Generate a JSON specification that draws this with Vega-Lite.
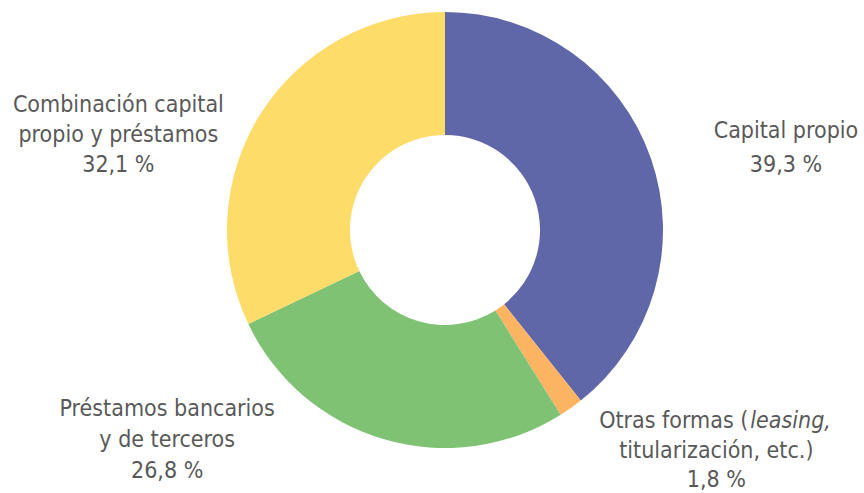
{
  "$schema": "https://vega.github.io/schema/vega-lite/v6.json",
  "width": 838,
  "height": 460,
  "autosize": "none",
  "padding": {"left": 26, "right": 0, "top": 0, "bottom": 33},
  "background": "white",
  "config": {"view": {"stroke": null}},
  "data": {
    "values": [
      {"categoria": "Capital propio", "valor": 39.3, "orden": 1, "etiqueta": ["Capital propio", "39,3 %"]},
      {"categoria": "Otras formas", "valor": 1.8, "orden": 2, "parte_a": "Otras formas (", "parte_b": "leasing,", "etiqueta": ["titularización, etc.)", "1,8 %"]},
      {"categoria": "Préstamos bancarios y de terceros", "valor": 26.8, "orden": 3, "etiqueta": ["Préstamos bancarios", "y de terceros", "26,8 %"]},
      {"categoria": "Combinación capital propio y préstamos", "valor": 32.1, "orden": 4, "etiqueta": ["Combinación capital", "propio y préstamos", "32,1 %"]}
    ]
  },
  "transform": [
    {"stack": "valor", "groupby": [], "sort": [{"field": "orden"}], "as": ["v0", "v1"]},
    {"calculate": "(datum.v0 + datum.v1) / 2", "as": "vm"}
  ],
  "layer": [
    {
      "mark": {"type": "arc", "innerRadius": 95, "outerRadius": 218},
      "encoding": {
        "theta": {"field": "v0", "type": "quantitative", "scale": {"domain": [0, 100]}},
        "theta2": {"field": "v1"},
        "color": {
          "field": "categoria",
          "type": "nominal",
          "scale": {
            "domain": ["Capital propio", "Otras formas", "Préstamos bancarios y de terceros", "Combinación capital propio y préstamos"],
            "range": ["#6067A8", "#FDB462", "#7FC274", "#FDDC6A"]
          },
          "legend": null
        }
      }
    },
    {
      "transform": [{"filter": "datum.orden == 1"}],
      "mark": {"type": "text", "font": "Liberation Sans Narrow, DejaVu Sans Condensed, sans-serif", "fontSize": 23, "lineHeight": 34, "color": "#595959", "align": "center", "baseline": "middle", "dx": 20, "dy": 13},
      "encoding": {
        "theta": {"field": "vm", "type": "quantitative"},
        "radius": {"value": 340},
        "text": {"field": "etiqueta"}
      }
    },
    {
      "transform": [{"filter": "datum.orden == 2"}],
      "mark": {"type": "text", "font": "Liberation Sans Narrow, DejaVu Sans Condensed, sans-serif", "fontSize": 23, "lineHeight": 28, "color": "#595959", "align": "right", "baseline": "middle", "dx": 107, "dy": -87},
      "encoding": {
        "theta": {"field": "vm", "type": "quantitative"},
        "radius": {"value": 340},
        "text": {"field": "parte_a"}
      }
    },
    {
      "transform": [{"filter": "datum.orden == 2"}],
      "mark": {"type": "text", "font": "Liberation Sans Narrow, DejaVu Sans Condensed, sans-serif", "fontSize": 23, "fontStyle": "italic", "lineHeight": 28, "color": "#595959", "align": "left", "baseline": "middle", "dx": 109, "dy": -87},
      "encoding": {
        "theta": {"field": "vm", "type": "quantitative"},
        "radius": {"value": 340},
        "text": {"field": "parte_b"}
      }
    },
    {
      "transform": [{"filter": "datum.orden == 2"}],
      "mark": {"type": "text", "font": "Liberation Sans Narrow, DejaVu Sans Condensed, sans-serif", "fontSize": 23, "lineHeight": 29, "color": "#595959", "align": "center", "baseline": "middle", "dx": 75, "dy": -57},
      "encoding": {
        "theta": {"field": "vm", "type": "quantitative"},
        "radius": {"value": 340},
        "text": {"field": "etiqueta"}
      }
    },
    {
      "transform": [{"filter": "datum.orden == 3"}],
      "mark": {"type": "text", "font": "Liberation Sans Narrow, DejaVu Sans Condensed, sans-serif", "fontSize": 23, "lineHeight": 31, "color": "#595959", "align": "center", "baseline": "middle", "dx": -183, "dy": -147},
      "encoding": {
        "theta": {"field": "vm", "type": "quantitative"},
        "radius": {"value": 340},
        "text": {"field": "etiqueta"}
      }
    },
    {
      "transform": [{"filter": "datum.orden == 4"}],
      "mark": {"type": "text", "font": "Liberation Sans Narrow, DejaVu Sans Condensed, sans-serif", "fontSize": 23, "lineHeight": 30, "color": "#595959", "align": "center", "baseline": "middle", "dx": -39, "dy": 56},
      "encoding": {
        "theta": {"field": "vm", "type": "quantitative"},
        "radius": {"value": 340},
        "text": {"field": "etiqueta"}
      }
    }
  ]
}
